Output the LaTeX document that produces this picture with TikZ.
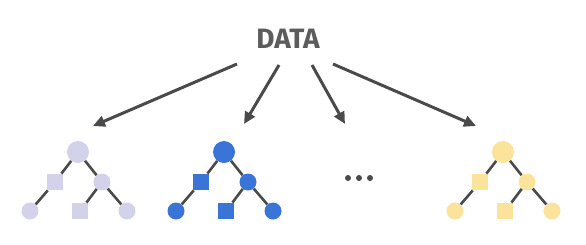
\documentclass[tikz,border=0pt]{standalone}
\usepackage{fontspec}
\setmainfont{Fira Sans}
\usetikzlibrary{arrows.meta}
\definecolor{lavender}{HTML}{D4D1EB}
\definecolor{forestblue}{HTML}{3A74D6}
\definecolor{sandyellow}{HTML}{FCE39C}
\definecolor{inkgray}{HTML}{4A4A4A}

\tikzset{
  bignode/.style={circle, fill=#1, minimum size=22pt, inner sep=0pt},
  smallnode/.style={circle, fill=#1, minimum size=17pt, inner sep=0pt},
  boxnode/.style={rectangle, fill=#1, minimum size=16.5pt, inner sep=0pt},
  branch/.style={draw=inkgray, line width=2.6pt},
  fanout/.style={draw=inkgray, line width=3pt, -{Triangle[length=12pt, width=11pt]}},
}

\begin{document}
\begin{tikzpicture}[x=1pt, y=-1pt]
  \useasboundingbox (0,0) rectangle (586,244);
  % Label
  \node[font=\bfseries\fontsize{28}{30}\selectfont, text=inkgray!90] (data) at (288,39) {DATA};
  % Arrows
  \coordinate (s1) at (237,64);  \coordinate (e1) at (93,126);
  \coordinate (s2) at (279,65);  \coordinate (e2) at (244,124);
  \coordinate (s3) at (312,65);  \coordinate (e3) at (345,124);
  \coordinate (s4) at (333,64);  \coordinate (e4) at (476,126);
  \foreach \i in {1,...,4}
    \draw[fanout] (s\i) -- (e\i);
  % Trees
  \foreach \t/\x/\c in {a/78/lavender, b/224/forestblue, c/503/sandyellow} {
    \node[bignode=\c] (\t root) at (\x,152) {};
    \node[boxnode=\c] (\t left) at (\x-23,182) {};
    \node[smallnode=\c] (\t right) at (\x+24,182) {};
    \node[smallnode=\c] (\t leafl) at (\x-48,211) {};
    \node[boxnode=\c] (\t leafm) at (\x+2,211) {};
    \node[smallnode=\c] (\t leafr) at (\x+49,211) {};
    \draw[branch] (\t root) -- (\t left);
    \draw[branch] (\t root) -- (\t right);
    \draw[branch] (\t left) -- (\t leafl);
    \draw[branch] (\t right) -- (\t leafm);
    \draw[branch] (\t right) -- (\t leafr);
  }
  % Ellipsis
  \foreach \i/\x in {1/348, 2/359, 3/370}
    \node[circle, fill=inkgray, minimum size=6pt, inner sep=0pt] (dot\i) at (\x,178) {};
\end{tikzpicture}
\end{document}
